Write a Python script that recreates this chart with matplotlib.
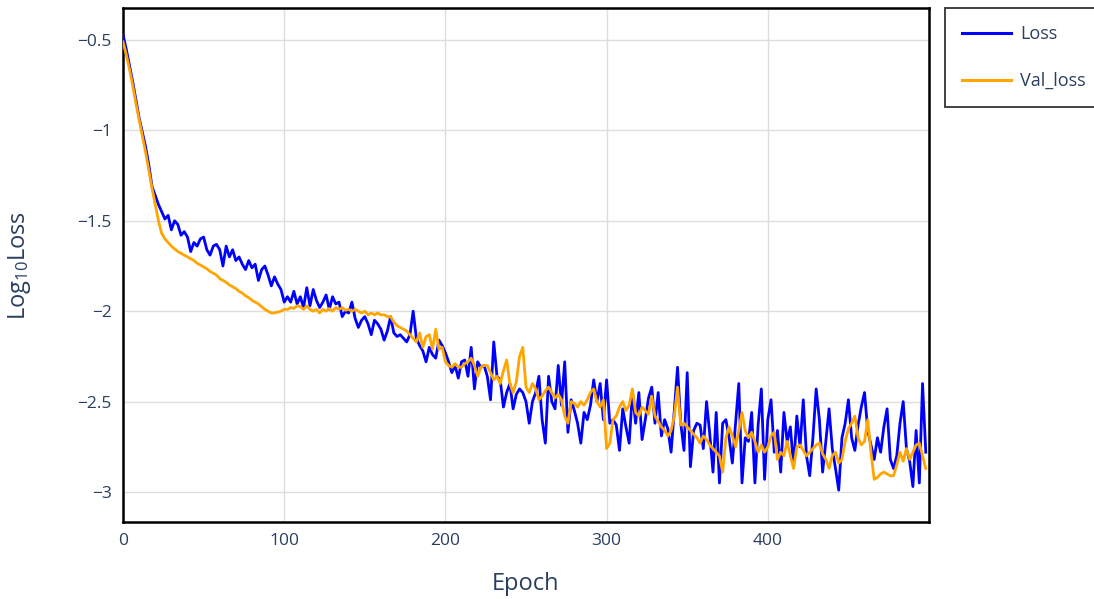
import numpy as np
import matplotlib
matplotlib.use("Agg")
import matplotlib.pyplot as plt
from matplotlib.ticker import FuncFormatter

plt.rcParams['font.family'] = ['Open Sans', 'DejaVu Sans']
plt.rcParams['mathtext.fontset'] = 'custom'
plt.rcParams['mathtext.rm'] = 'Open Sans'
plt.rcParams['mathtext.it'] = 'Open Sans'

epoch_step = 2
loss = [
    -0.47, -0.55, -0.64, -0.73, -0.83, -0.93, -1.01, -1.09, -1.19, -1.31,
    -1.36, -1.41, -1.45, -1.49, -1.47, -1.55, -1.50, -1.52, -1.58, -1.56,
    -1.59, -1.67, -1.62, -1.64, -1.60, -1.59, -1.66, -1.69, -1.64, -1.63,
    -1.66, -1.75, -1.64, -1.70, -1.66, -1.72, -1.70, -1.74, -1.77, -1.72,
    -1.76, -1.74, -1.83, -1.77, -1.75, -1.80, -1.86, -1.81, -1.85, -1.88,
    -1.95, -1.92, -1.95, -1.89, -1.96, -1.92, -1.98, -1.87, -1.97, -1.88,
    -1.94, -1.98, -1.95, -1.91, -1.99, -1.92, -1.96, -1.95, -2.03, -2.00,
    -2.01, -1.95, -2.04, -2.09, -2.05, -2.03, -2.07, -2.13, -2.05, -2.07,
    -2.10, -2.16, -2.11, -2.03, -2.12, -2.14, -2.13, -2.15, -2.17, -2.13,
    -2.00, -2.15, -2.19, -2.22, -2.28, -2.20, -2.24, -2.26, -2.16, -2.19,
    -2.23, -2.28, -2.34, -2.30, -2.37, -2.28, -2.27, -2.36, -2.20, -2.43,
    -2.28, -2.31, -2.30, -2.36, -2.49, -2.17, -2.36, -2.38, -2.53, -2.45,
    -2.40, -2.54, -2.46, -2.43, -2.45, -2.50, -2.62, -2.50, -2.45, -2.36,
    -2.60, -2.73, -2.36, -2.50, -2.54, -2.30, -2.52, -2.28, -2.67, -2.49,
    -2.55, -2.62, -2.73, -2.56, -2.60, -2.52, -2.38, -2.50, -2.40, -2.60,
    -2.38, -2.62, -2.60, -2.63, -2.77, -2.54, -2.64, -2.73, -2.45, -2.62,
    -2.45, -2.71, -2.60, -2.48, -2.42, -2.62, -2.45, -2.69, -2.60, -2.65,
    -2.78, -2.55, -2.31, -2.62, -2.77, -2.34, -2.86, -2.66, -2.62, -2.63,
    -2.76, -2.50, -2.68, -2.89, -2.56, -2.95, -2.62, -2.60, -2.70, -2.84,
    -2.62, -2.40, -2.95, -2.70, -2.72, -2.56, -2.95, -2.63, -2.43, -2.93,
    -2.60, -2.49, -2.78, -2.66, -2.89, -2.56, -2.72, -2.64, -2.86, -2.58,
    -2.75, -2.49, -2.80, -2.91, -2.70, -2.43, -2.60, -2.89, -2.72, -2.54,
    -2.76, -2.87, -2.99, -2.70, -2.62, -2.49, -2.70, -2.77, -2.63, -2.53,
    -2.45, -2.66, -2.74, -2.82, -2.70, -2.78, -2.64, -2.54, -2.82, -2.87,
    -2.80, -2.62, -2.50, -2.76, -2.83, -2.97, -2.66, -2.95, -2.40, -2.78,
]
val_loss = [
    -0.51, -0.58, -0.66, -0.75, -0.85, -0.94, -1.03, -1.12, -1.22, -1.32,
    -1.41, -1.50, -1.57, -1.60, -1.62, -1.64, -1.655, -1.67, -1.68, -1.69,
    -1.70, -1.71, -1.72, -1.735, -1.745, -1.755, -1.765, -1.78, -1.79, -1.80,
    -1.82, -1.83, -1.84, -1.855, -1.865, -1.875, -1.89, -1.90, -1.915, -1.925,
    -1.94, -1.95, -1.96, -1.975, -1.99, -2.00, -2.01, -2.01, -2.005, -2.00,
    -1.99, -1.99, -1.98, -1.985, -1.97, -1.975, -1.99, -1.97, -1.99, -2.00,
    -1.99, -2.01, -1.99, -2.00, -1.985, -2.00, -1.98, -1.99, -1.98, -1.995,
    -1.99, -2.00, -1.99, -2.00, -2.01, -2.00, -2.02, -2.01, -2.02, -2.01,
    -2.02, -2.02, -2.03, -2.03, -2.06, -2.08, -2.09, -2.10, -2.11, -2.13,
    -2.15, -2.17, -2.12, -2.20, -2.14, -2.13, -2.21, -2.10, -2.21, -2.20,
    -2.28, -2.30, -2.31, -2.29, -2.31, -2.31, -2.29, -2.28, -2.26, -2.30,
    -2.36, -2.31, -2.30, -2.30, -2.34, -2.38, -2.36, -2.40, -2.33, -2.27,
    -2.40, -2.45, -2.39, -2.25, -2.20, -2.42, -2.45, -2.40, -2.43, -2.49,
    -2.47, -2.44, -2.42, -2.45, -2.48, -2.46, -2.49, -2.58, -2.62, -2.50,
    -2.51, -2.53, -2.50, -2.52, -2.49, -2.45, -2.43, -2.50, -2.53, -2.49,
    -2.76, -2.73, -2.60, -2.58, -2.53, -2.50, -2.55, -2.52, -2.43, -2.56,
    -2.58, -2.53, -2.55, -2.57, -2.47, -2.58, -2.61, -2.64, -2.66, -2.69,
    -2.66, -2.58, -2.42, -2.63, -2.62, -2.64, -2.66, -2.68, -2.70, -2.73,
    -2.69, -2.71, -2.74, -2.76, -2.78, -2.80, -2.89, -2.70, -2.64, -2.69,
    -2.75, -2.66, -2.56, -2.66, -2.70, -2.67, -2.72, -2.78, -2.74, -2.78,
    -2.75, -2.69, -2.67, -2.82, -2.78, -2.80, -2.72, -2.80, -2.87, -2.75,
    -2.74, -2.77, -2.80, -2.78, -2.76, -2.74, -2.73, -2.79, -2.82, -2.87,
    -2.80, -2.78, -2.84, -2.82, -2.72, -2.65, -2.62, -2.58, -2.70, -2.74,
    -2.72, -2.60, -2.78, -2.93, -2.92, -2.90, -2.89, -2.90, -2.91, -2.91,
    -2.85, -2.78, -2.83, -2.76, -2.82, -2.78, -2.74, -2.73, -2.80, -2.87,
]
epochs = np.arange(len(loss)) * epoch_step
series_names = ["Loss", "Val_loss"]
x_ticks = [0, 100, 200, 300, 400]
y_ticks = [-3, -2.5, -2, -1.5, -1, -0.5]

W, H = 1094, 599
fig = plt.figure(figsize=(W / 100, H / 100), dpi=100)
ax = fig.add_axes([123 / W, 1 - 522 / H, (929 - 123) / W, (522 - 8) / H])

text_col = '#2a3f5f'
ax.plot(epochs, loss, color='#0000ff', lw=2.0, label=series_names[0], zorder=3)
ax.plot(epochs, val_loss, color='#ffa500', lw=2.0, label=series_names[1], zorder=4)

ax.set_xlim(0, 500)
ax.set_ylim(-3.166, -0.323)
ax.set_xticks(x_ticks)
ax.set_yticks(y_ticks)
ax.yaxis.set_major_formatter(FuncFormatter(lambda v, p: ('%g' % v).replace('-', '\u2212')))
ax.grid(True, color='#dedede', lw=1.0)
ax.set_axisbelow(True)
ax.tick_params(length=0, labelsize=12.5, labelcolor=text_col, pad=8)
for s in ax.spines.values():
    s.set_color('black')
    s.set_linewidth(1.8)

ax.set_xlabel('Epoch', fontsize=17, color=text_col)
ax.set_ylabel(r'Log$_{10}$Loss', fontsize=17, color=text_col)
ax.xaxis.set_label_coords(0.5, -0.097)
ax.yaxis.set_label_coords(-0.112, 0.5)

leg = fig.legend(loc='upper left', bbox_to_anchor=(945 / W, 1 - 8 / H),
                 borderaxespad=0.0,
                 frameon=True, fancybox=False, fontsize=13, labelcolor=text_col,
                 handlelength=2.7, labelspacing=1.6, borderpad=0.95, handletextpad=0.5)
leg.get_frame().set_edgecolor('black')
leg.get_frame().set_linewidth(1.3)
for line in leg.get_lines():
    line.set_linewidth(2.2)

fig.savefig('out.png', dpi=100)
